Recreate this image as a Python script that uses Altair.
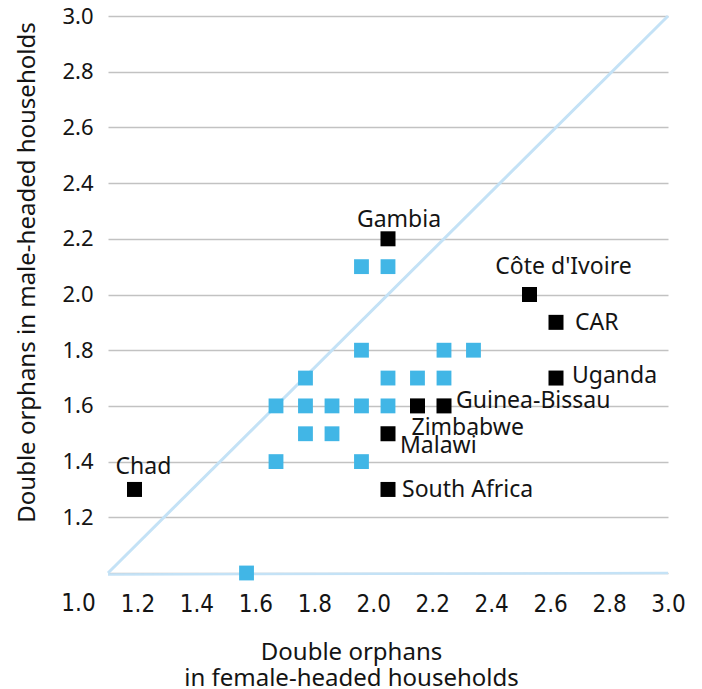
import altair as alt
import pandas as pd

# ---- data (values read against the printed axis labels) ----
blue_x = [1.96, 2.05, 1.96, 2.24, 2.34, 1.77, 2.05, 2.15, 2.24,
          1.67, 1.77, 1.86, 1.96, 2.05, 1.77, 1.86, 1.67, 1.96, 1.57]
blue_y = [2.1, 2.1, 1.8, 1.8, 1.8, 1.7, 1.7, 1.7, 1.7,
          1.6, 1.6, 1.6, 1.6, 1.6, 1.5, 1.5, 1.4, 1.4, 1.0]

countries = ["Chad", "Gambia", "Côte d'Ivoire", "CAR", "Uganda",
             "Guinea-Bissau", "Zimbabwe", "Malawi", "South Africa"]
country_x = [1.19, 2.05, 2.53, 2.62, 2.62, 2.24, 2.15, 2.05, 2.05]
country_y = [1.3, 2.2, 2.0, 1.9, 1.7, 1.6, 1.6, 1.5, 1.3]

# equality reference line and baseline
ref_x = [1.1, 3.0]
ref_y = [1.0, 3.0]

x_domain = [1.1, 3.0]
y_domain = [1.0, 3.0]
x_ticks = [1.2, 1.4, 1.6, 1.8, 2.0, 2.2, 2.4, 2.6, 2.8, 3.0]
x_first_label = [1.0]
y_ticks = [1.0, 1.2, 1.4, 1.6, 1.8, 2.0, 2.2, 2.4, 2.6, 2.8, 3.0]

x_title = ["Double orphans", "in female-headed households"]
y_title = "Double orphans in male-headed households"

# ---- styling ----
FONT = "Noto Sans"
NARROW = "'Liberation Sans Narrow', 'DejaVu Sans Condensed', 'Roboto Condensed', sans-serif"
TXT = "#141414"
BLUE = "#41b6e6"
LINE = "#c4e2f6"
GRID = "#c2c2c2"

# label placement: (align, dx, dy) relative to the marker centre
label_layout = {
    "Chad": ("left", -19, -15),
    "Gambia": ("center", 11, -12),
    "Côte d'Ivoire": ("center", 34, -21),
    "CAR": ("left", 19, 8),
    "Uganda": ("left", 16, 5),
    "Guinea-Bissau": ("left", 12, 2),
    "Zimbabwe": ("left", -6, 29),
    "Malawi": ("left", 12, 19),
    "South Africa": ("left", 14, 8),
}

xscale = alt.Scale(domain=x_domain, nice=False, zero=False)
yscale = alt.Scale(domain=y_domain, nice=False, zero=False)

xaxis = alt.Axis(
    values=x_ticks, format=".1f", grid=False, domain=False, ticks=False, tickSize=0,
    labelPadding=38, labelBaseline="alphabetic", labelFont=NARROW, labelFontSize=24,
    labelColor=TXT, labelFlush=False,
    title=x_title, titleFont=FONT, titleFontSize=24, titleFontWeight="normal",
    titleColor=TXT, titleX=243, titleY=86, titleBaseline="alphabetic",
    titleLineHeight=26, titleAlign="center",
)
yaxis = alt.Axis(
    values=y_ticks, labelExpr="datum.value < 1.05 ? '' : format(datum.value, '.1f')",
    grid=True, gridColor=GRID, gridWidth=1.6, domain=False, ticks=False, tickSize=0,
    labelPadding=15, labelFont=FONT, labelFontSize=22, labelColor=TXT, labelFlush=False,
    title=y_title, titleFont=FONT, titleFontSize=24, titleFontWeight="normal",
    titleColor=TXT, titleX=-74, titleY=256, titleBaseline="alphabetic",
    titleAngle=270, titleAlign="center",
)

X = alt.X("x:Q", scale=xscale, axis=xaxis)
Y = alt.Y("y:Q", scale=yscale, axis=yaxis)

diag_df = pd.DataFrame({"x": [ref_x[0]], "y": [ref_y[0]], "x2": [ref_x[1]], "y2": [ref_y[1]]})
base_df = pd.DataFrame({"x": [ref_x[0]], "y": [ref_y[0]], "x2": [ref_x[1]], "y2": [ref_y[0]]})
blue_df = pd.DataFrame({"x": blue_x, "y": blue_y})
black_df = pd.DataFrame({"x": country_x, "y": country_y, "name": countries})
first_df = pd.DataFrame({"x": x_first_label, "y": [y_domain[0]], "t": ["1.0"]})

diag = alt.Chart(diag_df).mark_rule(color=LINE, strokeWidth=3).encode(
    x=X, y=Y, x2="x2:Q", y2="y2:Q")
base = alt.Chart(base_df).mark_rule(color=LINE, strokeWidth=2.5, yOffset=1.5).encode(
    x=X, y=Y, x2="x2:Q", y2="y2:Q")
blue = alt.Chart(blue_df).mark_square(size=220, color=BLUE, opacity=1).encode(x=X, y=Y)
black = alt.Chart(black_df).mark_square(size=225, color="#000000", opacity=1).encode(x=X, y=Y)

layers = [diag, base, blue, black]
for name in countries:
    align, dx, dy = label_layout[name]
    layers.append(
        alt.Chart(black_df).transform_filter(alt.datum.name == name)
        .mark_text(align=align, baseline="alphabetic", dx=dx, dy=dy,
                   font=FONT, fontSize=23, color=TXT)
        .encode(x=X, y=Y, text="name:N")
    )

first = alt.Chart(first_df).mark_text(
    align="center", baseline="alphabetic", dy=38, font=NARROW, fontSize=24, color=TXT
).encode(x=X, y=Y, text="t:N")
layers.append(first)

chart = alt.layer(*layers).properties(
    width=560, height=557,
    autosize=alt.AutoSizeParams(type="none"),
    padding={"left": 100, "top": 8, "right": 26, "bottom": 116},
    background="white",
).configure_view(stroke=None)

chart.save("out.html", embed_options={"renderer": "svg", "actions": False})
